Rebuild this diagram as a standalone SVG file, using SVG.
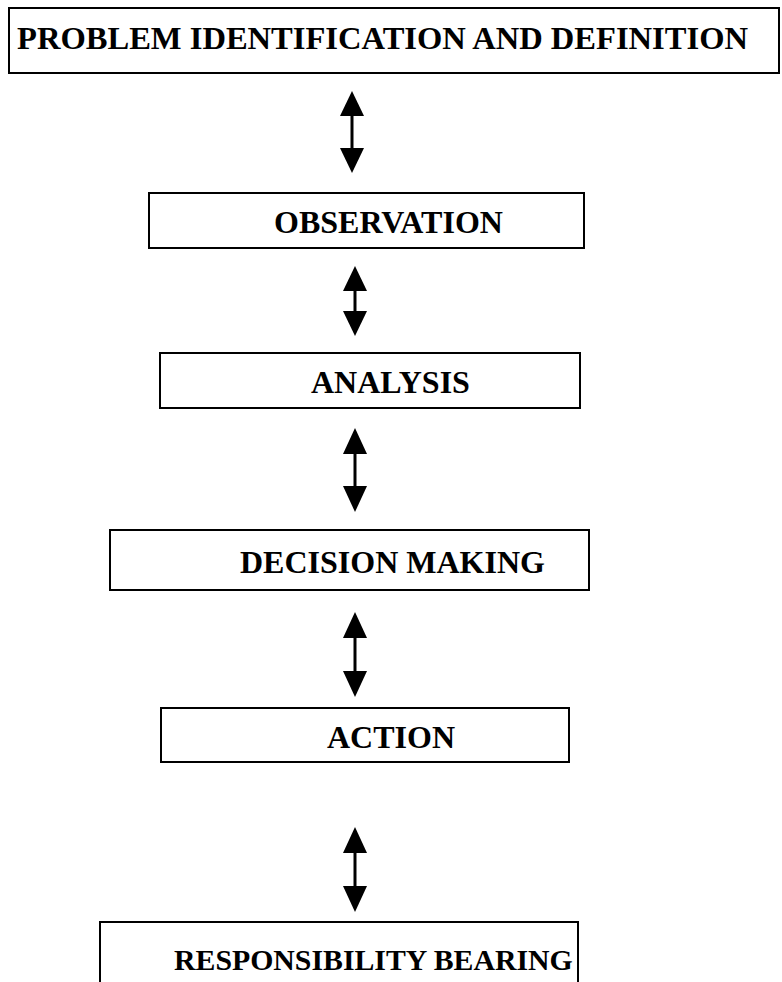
<svg xmlns="http://www.w3.org/2000/svg" width="782" height="982" viewBox="0 0 782 982">
<defs>
<style>
.box{fill:#fff;stroke:#000;stroke-width:2}
.lbl{font-family:"Liberation Serif","Times New Roman",serif;font-weight:bold;font-size:32px;fill:#000}
.shaft{stroke:#000;stroke-width:3}
.head{fill:#000}
</style>
</defs>
<rect width="782" height="982" fill="#fff"/>
<g id="connectors">
<g id="c1"><line class="shaft" x1="352" y1="110" x2="352" y2="152"/><polygon class="head" points="352,91 340,116 364,116"/><polygon class="head" points="352,173 340,148 364,148"/></g>
<g id="c2"><line class="shaft" x1="355" y1="285" x2="355" y2="318"/><polygon class="head" points="355,266 343,291 367,291"/><polygon class="head" points="355,336 343,311 367,311"/></g>
<g id="c3"><line class="shaft" x1="355" y1="448" x2="355" y2="490"/><polygon class="head" points="355,428 343,454 367,454"/><polygon class="head" points="355,512 343,486 367,486"/></g>
<g id="c4"><line class="shaft" x1="355" y1="632" x2="355" y2="676"/><polygon class="head" points="355,612 343,638 367,638"/><polygon class="head" points="355,697 343,671 367,671"/></g>
<g id="c5"><line class="shaft" x1="355" y1="847" x2="355" y2="891"/><polygon class="head" points="355,827 343,853 367,853"/><polygon class="head" points="355,912 343,886 367,886"/></g>
</g>
<g id="n1"><rect class="box" x="9" y="8" width="770" height="65"/><text class="lbl" x="17" y="49" textLength="731" lengthAdjust="spacingAndGlyphs">PROBLEM IDENTIFICATION AND DEFINITION</text></g>
<g id="n2"><rect class="box" x="149" y="193" width="435" height="55"/><text class="lbl" x="274" y="233">OBSERVATION</text></g>
<g id="n3"><rect class="box" x="160" y="353" width="420" height="55"/><text class="lbl" x="311" y="393">ANALYSIS</text></g>
<g id="n4"><rect class="box" x="110" y="530" width="479" height="60"/><text class="lbl" x="240" y="573">DECISION MAKING</text></g>
<g id="n5"><rect class="box" x="161" y="708" width="408" height="54"/><text class="lbl" x="327" y="748">ACTION</text></g>
<g id="n6"><rect class="box" x="100" y="922" width="478" height="70"/><text class="lbl" x="174" y="970" style="font-size:29.8px">RESPONSIBILITY BEARING</text></g>
</svg>
